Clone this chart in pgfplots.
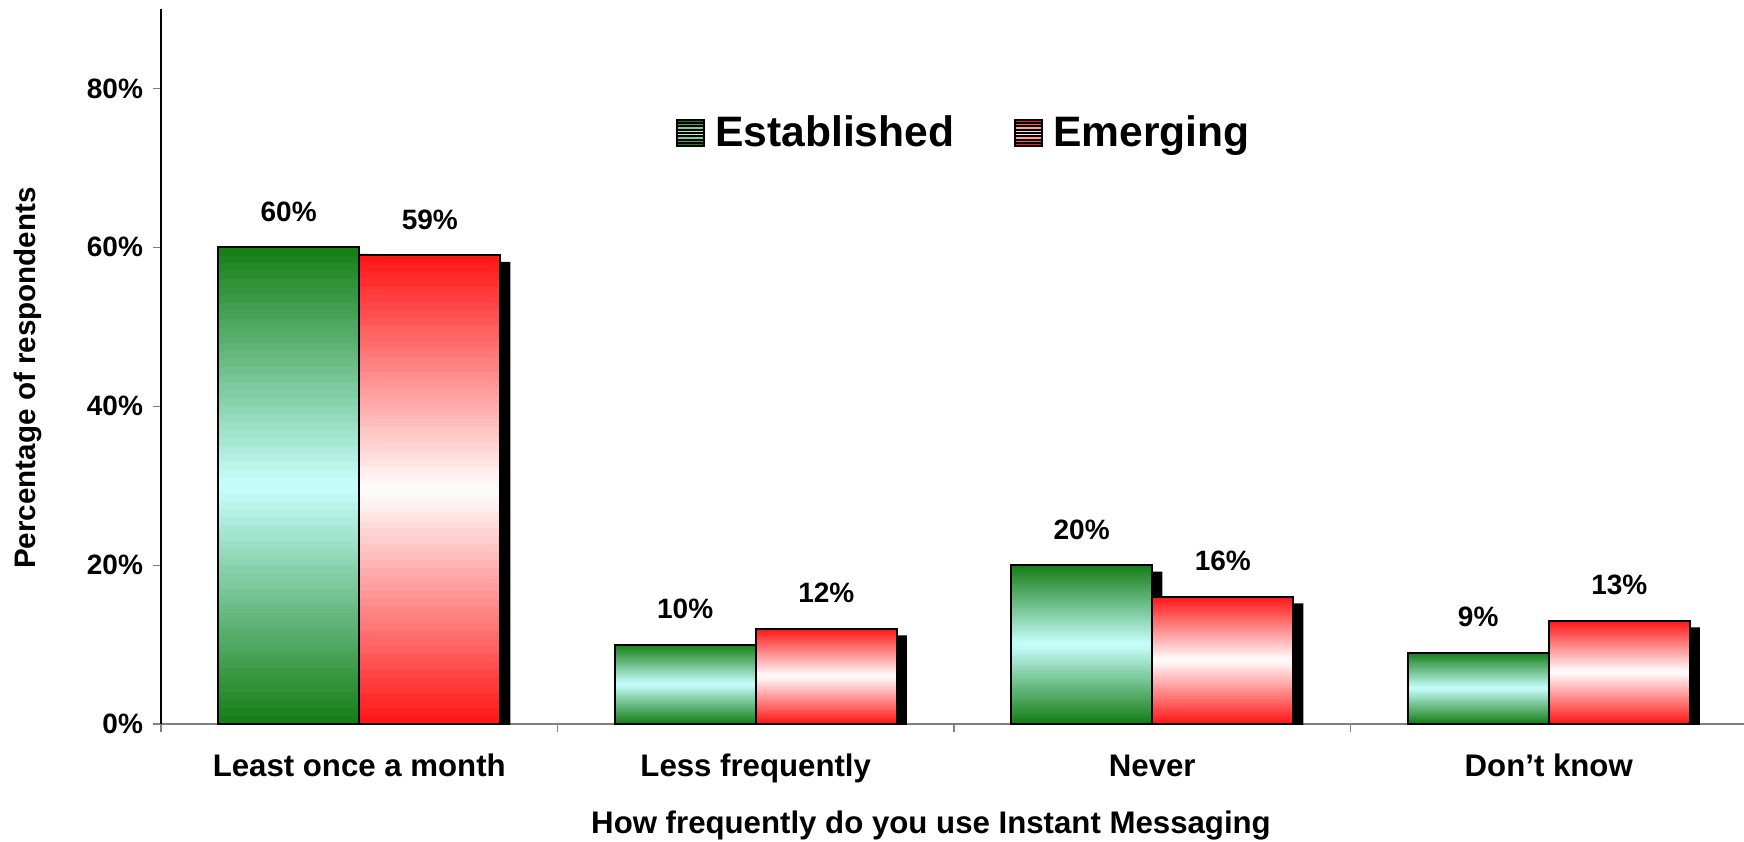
\documentclass[border=0pt]{standalone}
\usepackage{pgfplots}
\pgfplotsset{compat=1.18}
\usepackage{pgfplotstable}
\usepackage{fontspec}
\setmainfont{Liberation Sans}

\definecolor{estdark}{HTML}{177F17}
\definecolor{estlight}{HTML}{C8FFFF}
\definecolor{emgdark}{HTML}{FF1818}
\definecolor{emglight}{HTML}{FFFFFF}

% Share of respondents (%) by how often they use instant messaging
\pgfplotstableread{
x est emg
0 60 59
1 10 12
2 20 16
3 9 13
}\imdata

% banded gradient square for the legend: dark at both ends, light in the middle
\newcommand\bandsquare[2]{%
  \foreach \k in {1,...,8}{%
    \fill[fill=#1!\fpeval{round(abs(2*\k-9)*100/7)}!#2]
      (0pt,{-6.6pt+(\k-1)*1.65pt}) rectangle (13.2pt,{-6.6pt+\k*1.65pt});
  }%
  \draw[black, line width=1pt] (0pt,-6.6pt) rectangle (13.2pt,6.6pt);
  \path (16.4pt,0pt);
}

\begin{document}
\begin{tikzpicture}
\path[use as bounding box] (-80.5pt,-58.5pt) rectangle (791.5pt,362pt);
\begin{axis}[
  at={(0pt,0pt)}, anchor=south west,
  scale only axis, width=793pt, height=357.5pt,
  xmin=-0.5, xmax=3.5, ymin=0, ymax=90,
  ybar, bar width=0.356,
  axis x line*=bottom, axis y line*=left,
  x axis line style={-, draw=gray, line width=0.6pt},
  y axis line style={-, draw=black, line width=0.8pt},
  xtick={0,1,2,3},
  xticklabels={Least once a month, Less frequently, Never, Don’t know},
  major x tick style={draw=none},
  minor xtick={-0.5,0.5,1.5,2.5},
  minor x tick style={draw=gray, line width=0.6pt},
  minor tick length=4pt,
  major tick length=4pt,
  tick align=outside,
  ytick={0,20,40,60,80},
  yticklabels={0\%,20\%,40\%,60\%,80\%},
  major y tick style={draw=gray, line width=0.6pt},
  /pgf/number format/assume math mode=true,
  yticklabel style={font=\bfseries\fontsize{14}{16}\selectfont, anchor=east, xshift=-1.5pt},
  xticklabel style={font=\bfseries\fontsize{15.6}{18}\selectfont, anchor=base, yshift=-22pt},
  ylabel={Percentage of respondents},
  ylabel style={at={(axis description cs:-0.084,0.484)}, anchor=center, font=\bfseries\fontsize{14.8}{17}\selectfont},
  xlabel={How frequently do you use Instant Messaging},
  xlabel style={at={(axis description cs:0.4855,-0.1538)}, anchor=base, font=\bfseries\fontsize{15.6}{18}\selectfont},
  legend style={at={(axis description cs:0.3247,0.8266)}, anchor=west, draw=none, fill=none,
    font=\bfseries\fontsize{21.3}{24}\selectfont, inner sep=0pt,
    /tikz/every even column/.append style={column sep=28pt}},
  legend columns=2,
  legend cell align=left,
]
% drop shadows behind the bars
\addplot[forget plot, bar shift=-0.178, draw=none, fill=black, xshift=5pt, yshift=-3.3pt]
  table[x=x, y=est] {\imdata};
\addplot[forget plot, bar shift=0.178, draw=none, fill=black, xshift=5pt, yshift=-3.3pt]
  table[x=x, y=emg] {\imdata};
% vertical gradient of each bar, laid down as 60 bands from the top band downwards
\pgfplotsinvokeforeach{60,59,...,1}{
  \addplot[forget plot, bar shift=-0.178, draw=none,
    fill=estdark!\fpeval{round(abs(2*#1-61)*100/59)}!estlight,
    y filter/.expression={y*#1/60}]
    table[x=x, y=est] {\imdata};
  \addplot[forget plot, bar shift=0.178, draw=none,
    fill=emgdark!\fpeval{round(abs(2*#1-61)*100/59)}!emglight,
    y filter/.expression={y*#1/60}]
    table[x=x, y=emg] {\imdata};
}
% outlines, value labels and legend entries
\addplot[bar shift=-0.178, draw=black, fill=none, line width=1pt,
  nodes near coords={\pgfmathprintnumber{\pgfplotspointmeta}\%},
  nodes near coords style={font=\bfseries\fontsize{14}{16}\selectfont, anchor=base, yshift=13pt, text=black},
  legend image code/.code={\bandsquare{estdark}{estlight}}]
  table[x=x, y=est] {\imdata};
\addlegendentry{Established}
\addplot[bar shift=0.178, draw=black, fill=none, line width=1pt,
  nodes near coords={\pgfmathprintnumber{\pgfplotspointmeta}\%},
  nodes near coords style={font=\bfseries\fontsize{14}{16}\selectfont, anchor=base, yshift=13pt, text=black},
  legend image code/.code={\bandsquare{emgdark}{emglight}}]
  table[x=x, y=emg] {\imdata};
\addlegendentry{Emerging}
\end{axis}
\end{tikzpicture}
\end{document}
